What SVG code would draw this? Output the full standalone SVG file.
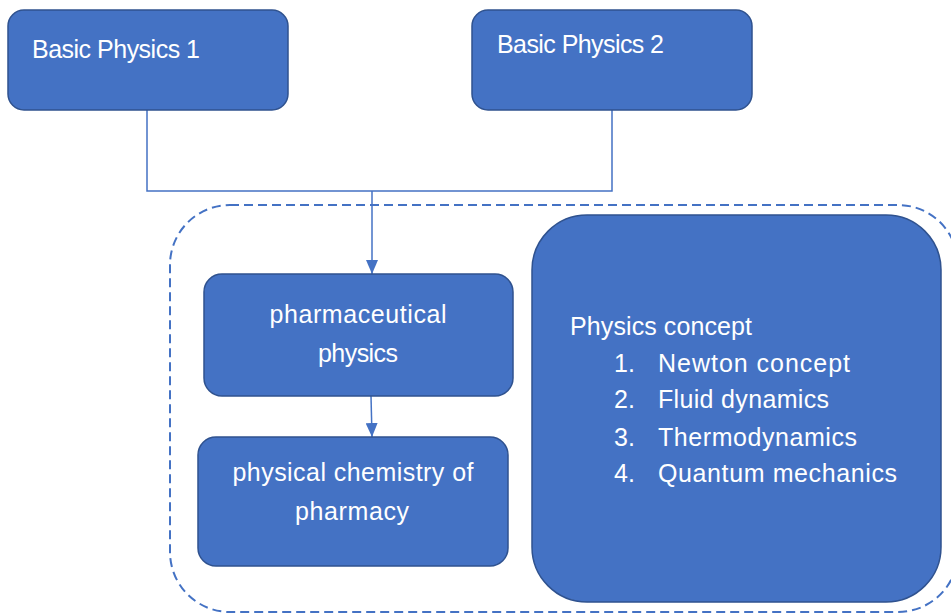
<svg xmlns="http://www.w3.org/2000/svg" width="951" height="614" viewBox="0 0 951 614">
<style>
.box{fill:#4472C4;stroke:#2F528F;stroke-width:1.5}
.t{font-family:"Liberation Sans",Arial,sans-serif;font-size:25px;fill:#ffffff}
.c{text-anchor:middle}
.conn{fill:none;stroke:#4472C4;stroke-width:1.5}
.group{fill:none;stroke:#4472C4;stroke-width:2;stroke-dasharray:9 5}
</style>
<defs>
<marker id="arr" markerWidth="14" markerHeight="12" refX="14" refY="6" orient="auto" markerUnits="userSpaceOnUse" viewBox="0 0 14 12">
<path d="M0,0 L14,6 L0,12 z" fill="#4472C4"/>
</marker>
</defs>
<rect id="container" class="group" x="170" y="205" width="788" height="407" rx="60" ry="60"/>
<g id="connectors">
<path class="conn" d="M147,110 V191 H612 V110"/>
<path class="conn" d="M372,191 V274" marker-end="url(#arr)"/>
<path class="conn" d="M371,396 L372,437" marker-end="url(#arr)"/>
</g>
<g id="bp1">
<rect class="box" x="8" y="10" width="280" height="100" rx="16"/>
<text class="t" x="32" y="58" textLength="168">Basic Physics 1</text>
</g>
<g id="bp2">
<rect class="box" x="472" y="10" width="280" height="100" rx="16"/>
<text class="t" x="497" y="53" textLength="167">Basic Physics 2</text>
</g>
<g id="pharm">
<rect class="box" x="204" y="274" width="309" height="122" rx="18"/>
<text class="t c" x="358" y="323" textLength="177">pharmaceutical</text>
<text class="t c" x="358" y="362" textLength="80">physics</text>
</g>
<g id="chem">
<rect class="box" x="198" y="437" width="310" height="129" rx="18"/>
<text class="t c" x="353" y="481" textLength="241">physical chemistry of</text>
<text class="t c" x="352" y="520" textLength="114">pharmacy</text>
</g>
<g id="concept">
<rect class="box" x="532" y="215" width="409" height="387" rx="55"/>
<text class="t" x="570" y="335" textLength="182">Physics concept</text>
<text class="t" x="614" y="372">1.</text><text class="t" x="658" y="372" textLength="192">Newton concept</text>
<text class="t" x="614" y="408">2.</text><text class="t" x="658" y="408" textLength="171">Fluid dynamics</text>
<text class="t" x="614" y="446">3.</text><text class="t" x="658" y="446" textLength="199">Thermodynamics</text>
<text class="t" x="614" y="482">4.</text><text class="t" x="658" y="482" textLength="239">Quantum mechanics</text>
</g>
</svg>
